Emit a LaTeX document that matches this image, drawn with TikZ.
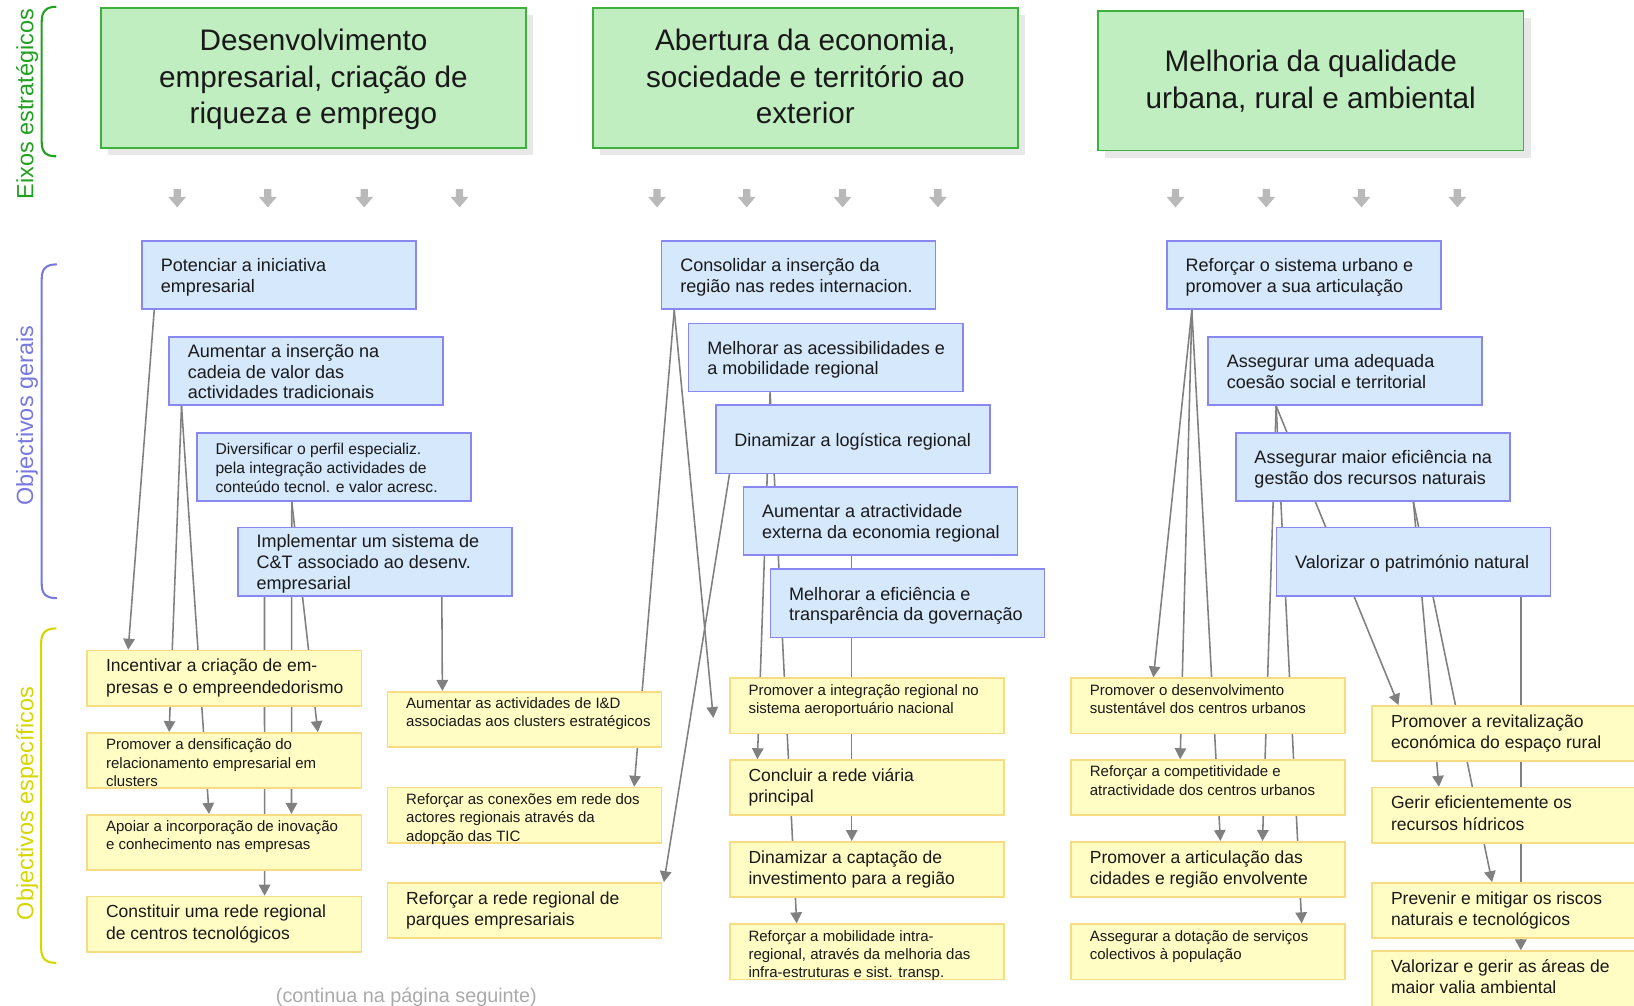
\documentclass[tikz,border=0pt]{standalone}
\usepackage{fontspec}
\setmainfont{Liberation Sans}
\usetikzlibrary{arrows.meta,shadows,backgrounds}

\definecolor{eixofill}{RGB}{192,238,192}
\definecolor{eixodraw}{RGB}{60,178,60}
\definecolor{geralfill}{RGB}{214,232,252}
\definecolor{geraldraw}{RGB}{136,136,240}
\definecolor{especfill}{RGB}{255,252,196}
\definecolor{especdraw}{RGB}{246,220,130}
\definecolor{eixotxt}{RGB}{34,160,34}
\definecolor{geraltxt}{RGB}{120,120,225}
\definecolor{espectxt}{RGB}{214,214,0}
\definecolor{ligacao}{RGB}{128,128,128}
\definecolor{setacinza}{RGB}{185,185,185}
\definecolor{notacinza}{RGB}{170,170,170}

\newcommand{\cabeca}[1]{\raisebox{-2pt}[\height][\depth]{\begin{tabular}{@{}c@{}}#1\end{tabular}}}
\newcommand{\caixa}[1]{\makebox[227pt][l]{\begin{tabular}{@{}l@{}}#1\end{tabular}}}
\newcommand{\caixag}[1]{\raisebox{-2.8pt}[\height][\depth]{\caixa{#1}}}
\newcommand{\caixatopo}[1]{\parbox[c][45pt][t]{227pt}{\begin{tabular}[t]{@{}l@{}}#1\end{tabular}}}

\tikzset{
  eixo/.style={draw=eixodraw, fill=eixofill, line width=1.6pt, anchor=north west,
    minimum width=408pt, minimum height=134pt, text=black!90,
    font=\fontsize{28.5}{35}\selectfont,
    general shadow={fill=black!9, shadow xshift=7pt, shadow yshift=-7pt}},
  geral/.style={draw=geraldraw, fill=geralfill, line width=1.6pt, anchor=north west,
    minimum width=263pt, minimum height=65.5pt, inner xsep=18pt, inner ysep=0pt,
    text=black!90, font=\fontsize{17.3}{20}\selectfont},
  geralp/.style={geral, font=\fontsize{15}{18}\selectfont},
  espec/.style={draw=especdraw, fill=especfill, line width=1.6pt, anchor=north west,
    minimum width=263pt, minimum height=53pt, inner xsep=18pt, inner ysep=0pt,
    text=black!90, font=\fontsize{16.8}{20.5}\selectfont},
  especp/.style={espec, font=\fontsize{14.4}{17.5}\selectfont},
  lado/.style={rotate=90, font=\fontsize{22.5}{27}\selectfont},
  chave/.style={line width=2pt},
  liga/.style={draw=ligacao, line width=1.5pt, -{Triangle[length=10.5pt,width=11pt]}}
}

\begin{document}
\begin{tikzpicture}[x=1pt,y=-1pt]
\path[use as bounding box] (0,0) rectangle (1568,965);

\node[eixo] (desenv) at (96,7) {\cabeca{Desenvolvimento\\empresarial, criação de\\riqueza e emprego}};
\node[eixo] (abertura) at (568,7) {\cabeca{Abertura da economia,\\sociedade e território ao\\exterior}};
\node[eixo] (melhoria) at (1053,9.5) {\cabeca{Melhoria da qualidade\\urbana, rural e ambiental}};

\node[lado, text=eixotxt] (eixoslbl) at (26,100) {Eixos estratégicos};
\node[lado, text=geraltxt] (geraislbl) at (26,399) {Objectivos gerais};
\node[lado, text=espectxt] (especlbl) at (26,771) {Objectivos específicos};
\draw[chave, eixotxt] (54,6.5) .. controls (44,6.5) and (40,11) .. (40,21) -- (40,136) .. controls (40,146) and (44,150) .. (54,150);
\draw[chave, geraltxt] (54.5,253.7) .. controls (44,253.7) and (40,258) .. (40,268) -- (40,560) .. controls (40,570) and (44,574) .. (54.5,574);
\draw[chave, espectxt] (54,603) .. controls (44,603) and (39.5,607) .. (39.5,617) -- (39.5,910) .. controls (39.5,920) and (44,924) .. (54,924);

\foreach \x in {170,257,349.5,441,630.5,716.5,808.5,900,1128,1215,1306.5,1398.5}
  \fill[setacinza] (\x-3.5,181.5) -- (\x+3.5,181.5) -- (\x+3.5,189) -- (\x+8.5,189) -- (\x,199) -- (\x-8.5,189) -- (\x-3.5,189) -- cycle;

\node[geral] (potenciar) at (135.5,230.5) {\caixag{Potenciar a iniciativa\\empresarial}};
\node[geral] (insercao) at (161.5,322.5) {\caixag{Aumentar a inserção na\\cadeia de valor das\\actividades tradicionais}};
\node[geralp] (diversificar) at (188,414.5) {\caixag{Diversificar o perfil especializ.\\pela integração actividades de\\conteúdo tecnol. e valor acresc.}};
\node[geral] (implementar) at (227.5,505.5) {\caixag{Implementar um sistema de\\C\&T associado ao desenv.\\empresarial}};

\node[geral] (consolidar) at (634,230.5) {\caixag{Consolidar a inserção da\\região nas redes internacion.}};
\node[geral] (acessib) at (660,309.5) {\caixag{Melhorar as acessibilidades e\\a mobilidade regional}};
\node[geral] (logistica) at (686,388) {\caixag{Dinamizar a logística regional}};
\node[geral] (atractiv) at (712.5,466.5) {\caixag{Aumentar a atractividade\\externa da economia regional}};
\node[geral] (governacao) at (738.5,545.5) {\caixag{Melhorar a eficiência e\\transparência da governação}};

\node[geral] (urbano) at (1119,230.5) {\caixag{Reforçar o sistema urbano e\\promover a sua articulação}};
\node[geral] (coesao) at (1158.5,322.5) {\caixag{Assegurar uma adequada\\coesão social e territorial}};
\node[geral] (recursos) at (1185,414.5) {\caixag{Assegurar maior eficiência na\\gestão dos recursos naturais}};
\node[geral] (patrimonio) at (1224,505.5) {\caixag{Valorizar o património natural}};

\node[espec] (incentivar) at (83,623.5) {\caixa{Incentivar a criação de em-\\presas e o empreendedorismo}};
\node[especp] (densificacao) at (83,702.5) {\caixatopo{Promover a densificação do\\relacionamento empresarial em\\clusters}};
\node[especp] (inovacao) at (83,781) {\caixatopo{Apoiar a incorporação de inovação\\e conhecimento nas empresas}};
\node[espec] (centros) at (83,859.5) {\caixa{Constituir uma rede regional\\de centros tecnológicos}};

\node[especp] (ied) at (371,663) {\caixatopo{Aumentar as actividades de I\&D\\associadas aos clusters estratégicos}};
\node[especp] (tic) at (371,755) {\caixatopo{Reforçar as conexões em rede dos\\actores regionais através da\\adopção das TIC}};
\node[espec] (parques) at (371,846.5) {\caixa{Reforçar a rede regional de\\parques empresariais}};

\node[especp] (aeroporto) at (699.5,650) {\caixatopo{Promover a integração regional no\\sistema aeroportuário nacional}};
\node[espec] (viaria) at (699.5,728.5) {\caixa{Concluir a rede viária\\principal}};
\node[espec] (investimento) at (699.5,807) {\caixa{Dinamizar a captação de\\investimento para a região}};
\node[especp] (mobilidade) at (699.5,886) {\caixatopo{Reforçar a mobilidade intra-\\regional, através da melhoria das\\infra-estruturas e sist. transp.}};

\node[especp] (sustentavel) at (1027,650) {\caixatopo{Promover o desenvolvimento\\sustentável dos centros urbanos}};
\node[especp] (competitiv) at (1027,728.5) {\caixatopo{Reforçar a competitividade e\\atractividade dos centros urbanos}};
\node[espec] (articulacao) at (1027,807) {\caixa{Promover a articulação das\\cidades e região envolvente}};
\node[especp] (servicos) at (1027,886) {\caixatopo{Assegurar a dotação de serviços\\colectivos à população}};

\node[espec] (rural) at (1316,676.5) {\caixa{Promover a revitalização\\económica do espaço rural}};
\node[espec] (hidricos) at (1316,755) {\caixa{Gerir eficientemente os\\recursos hídricos}};
\node[espec] (riscos) at (1316,846.5) {\caixa{Prevenir e mitigar os riscos\\naturais e tecnológicos}};
\node[espec] (ambiental) at (1316,912) {\caixa{Valorizar e gerir as áreas de\\maior valia ambiental}};

\node[text=notacinza, font=\fontsize{19}{22}\selectfont] (continua) at (390,956.5) {(continua na página seguinte)};

\coordinate (aeroseta) at (684.5,689);

\begin{scope}[on background layer]
\fill[white] (0,0) rectangle (1568,965);
\draw[liga] ([xshift=12.5pt]potenciar.south west) -- ([xshift=40pt]incentivar.north west);
\draw[liga] ([xshift=12.7pt]insercao.south west) -- ([xshift=79.3pt]densificacao.north west);
\draw[liga] ([xshift=12.7pt]insercao.south west) -- ([xshift=117.6pt]inovacao.north west);
\draw[liga] ([xshift=92pt]diversificar.south west) -- ([xshift=222pt]densificacao.north west);
\draw[liga] ([xshift=92pt]diversificar.south west) -- ([xshift=196.7pt]inovacao.north west);
\draw[liga] ([xshift=26.3pt]implementar.south west) -- ([xshift=170.9pt]centros.north west);
\draw[liga] ([xshift=196.5pt]implementar.south west) -- ([xshift=53.5pt]ied.north west);
\draw[liga] ([xshift=13pt]consolidar.south west) -- ([xshift=237.5pt]tic.north west);
\draw[liga] ([xshift=13pt]consolidar.south west) -- (aeroseta);
\draw[liga] ([xshift=14pt]logistica.south west) -- ([xshift=1.5pt]parques.north east);
\draw[liga] ([xshift=79pt]acessib.south west) -- ([xshift=27.3pt]viaria.north west);
\draw[liga] ([xshift=79pt]acessib.south west) -- ([xshift=65pt]mobilidade.north west);
\draw[liga] ([xshift=104.8pt]atractiv.south west) -- ([xshift=117.8pt]investimento.north west);
\draw[liga] ([xshift=24.7pt]urbano.south west) -- ([xshift=79.8pt]sustentavel.north west);
\draw[liga] ([xshift=24.7pt]urbano.south west) -- ([xshift=105.5pt]competitiv.north west);
\draw[liga] ([xshift=24.7pt]urbano.south west) -- ([xshift=144.1pt]articulacao.north west);
\draw[liga] ([xshift=66.1pt]coesao.south west) -- ([xshift=184.5pt]articulacao.north west);
\draw[liga] ([xshift=66.1pt]coesao.south west) -- ([xshift=222.1pt]servicos.north west);
\draw[liga] ([xshift=66.1pt]coesao.south west) -- ([xshift=26pt]rural.north west);
\draw[liga] ([xshift=171.3pt]recursos.south west) -- ([xshift=64.8pt]hidricos.north west);
\draw[liga] ([xshift=171.3pt]recursos.south west) -- ([xshift=115.8pt]riscos.north west);
\draw[liga] ([xshift=235.4pt]patrimonio.south west) -- ([xshift=143.4pt]ambiental.north west);
\end{scope}
\end{tikzpicture}
\end{document}
